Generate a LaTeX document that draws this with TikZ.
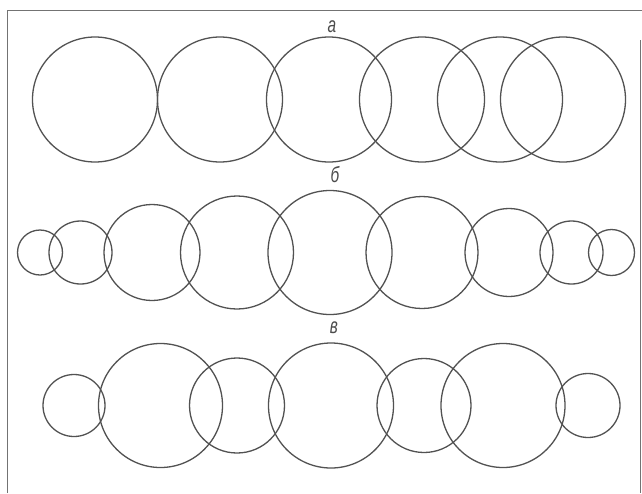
\documentclass[tikz,border=0pt]{standalone}
\usepackage{fontspec}
\setmainfont{Liberation Sans}
\begin{document}
\begin{tikzpicture}[x=1pt,y=-1pt,
  ring/.style={draw=black!68,line width=1.3pt},
  frameline/.style={draw=black!55,line width=1pt},
  rowlabel/.style={font=\itshape\fontsize{22}{22}\selectfont,text=black!70,inner sep=0pt,xscale=0.7}]
\useasboundingbox (0,0) rectangle (642,493);
\fill[white] (0,0) rectangle (642,493);
% frame
\draw[frameline] (7,493) -- (7,10) -- (642,10);
\draw[frameline] (640.5,40) -- (640.5,493);
% row a
\foreach \cx in {95,220,329,422,500,563}
  \draw[ring] (\cx,99.5) circle (62.5);
% row b
\foreach \cx/\r in {40/22.5,80.5/31.5,152/48,237/56.5,330/62,422/56,509/44,571.5/31.5,611.5/23}
  \draw[ring] (\cx,252.5) circle (\r);
% row v
\foreach \cx/\r in {74/31,160.5/62,237/47.5,331/62.5,424/47,503/62,588/32}
  \draw[ring] (\cx,405.5) circle (\r);
% labels
\node[rowlabel] (la) at (332,27) {а};
\node[rowlabel] (lb) at (335,175) {б};
\node[rowlabel] (lv) at (334,328) {в};
\end{tikzpicture}
\end{document}
